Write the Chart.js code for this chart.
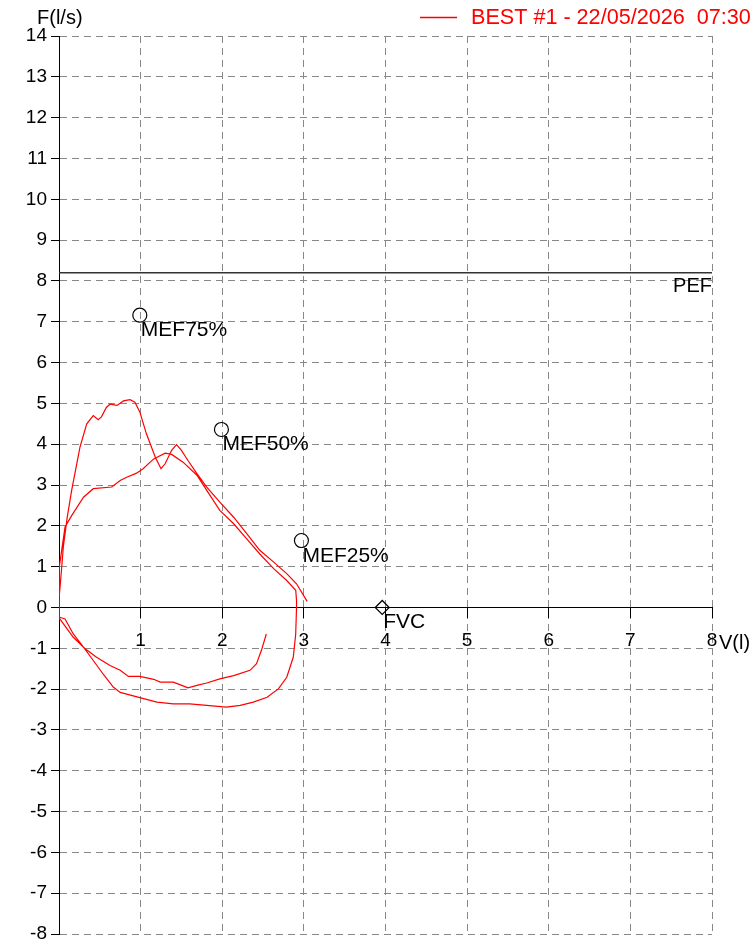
<!DOCTYPE html>
<html>
<head>
<meta charset="utf-8">
<script src="https://cdn.jsdelivr.net/npm/chart.js@4/dist/chart.umd.min.js"></script>
<style>
  html, body { margin: 0; padding: 0; background: #fff; }
  canvas { display: block; }
</style>
</head>
<body>
<canvas id="flowChart" width="752" height="944"></canvas>
<script>
// Flow-volume loop, [volume (l), flow (l/s)] pairs
const inspFirst = [
  [2.54, -0.65], [2.48, -1.05], [2.42, -1.38], [2.34, -1.54], [2.14, -1.67],
  [1.97, -1.75], [1.81, -1.85], [1.69, -1.91], [1.58, -1.97], [1.48, -1.89],
  [1.40, -1.83], [1.24, -1.83], [1.16, -1.76], [0.99, -1.69], [0.85, -1.69],
  [0.75, -1.54], [0.625, -1.42], [0.46, -1.22], [0.32, -1.01], [0.175, -0.73],
  [0.01, -0.28]
];
const expFirst = [
  [0.0, -0.28], [0.0, 0.5], [0.01, 0.99], [0.074, 1.97], [0.155, 2.25],
  [0.30, 2.70], [0.42, 2.91], [0.645, 2.95], [0.75, 3.11], [0.83, 3.19],
  [0.95, 3.29], [1.03, 3.40], [1.16, 3.64], [1.30, 3.78], [1.38, 3.75],
  [1.52, 3.56], [1.69, 3.24], [1.81, 2.87], [1.97, 2.38], [2.14, 2.05],
  [2.30, 1.68], [2.46, 1.31], [2.63, 0.95], [2.79, 0.66], [2.90, 0.42],
  [2.91, 0.17]
];
const inspSecond = [
  [2.91, 0.0], [2.90, -0.65], [2.87, -1.22], [2.79, -1.71], [2.69, -1.99],
  [2.55, -2.20], [2.38, -2.32], [2.22, -2.40], [2.05, -2.44], [1.81, -2.40],
  [1.60, -2.36], [1.40, -2.36], [1.20, -2.32], [0.99, -2.21], [0.75, -2.08],
  [0.665, -1.95], [0.54, -1.63], [0.42, -1.30], [0.30, -0.97], [0.175, -0.65],
  [0.074, -0.28], [0.01, -0.24]
];
const expSecond = [
  [0.0, -0.24], [0.0, 0.2], [0.02, 0.66], [0.053, 1.48], [0.10, 2.2],
  [0.155, 2.87], [0.257, 3.93], [0.34, 4.5], [0.42, 4.7], [0.48, 4.6],
  [0.52, 4.67], [0.58, 4.9], [0.625, 4.98], [0.71, 4.95], [0.79, 5.06],
  [0.87, 5.09], [0.93, 5.03], [0.99, 4.79], [1.07, 4.26], [1.18, 3.68],
  [1.25, 3.4], [1.30, 3.52], [1.38, 3.85], [1.44, 3.99], [1.50, 3.85],
  [1.58, 3.6], [1.69, 3.28], [1.81, 2.95], [1.97, 2.58], [2.14, 2.21],
  [2.30, 1.81], [2.46, 1.40], [2.63, 1.11], [2.79, 0.83], [2.91, 0.58],
  [3.04, 0.15]
];

// reference markers
const markerLabels = ['MEF75%', 'MEF50%', 'MEF25%', 'FVC'];
const markerVolume = [0.99, 1.99, 2.97, 3.96];
const markerFlow = [7.16, 4.36, 1.64, 0];
const pefFlow = 8.2;

const legendText = 'BEST #1 - 22/05/2026  07:30';
const xTicks = [0, 1, 2, 3, 4, 5, 6, 7, 8];

const FONT = "'Liberation Sans', Arial, sans-serif";
Chart.defaults.font.family = FONT;

const loopData = inspFirst.concat(expFirst, inspSecond, expSecond).map(p => ({x: p[0], y: p[1]}));

// texts around the plot
const textPlugin = {
    id: 'texts',
    afterDraw(chart) {
        const ctx = chart.ctx;
        const xs = chart.scales.x, ys = chart.scales.y;
        ctx.save();
        ctx.fillStyle = '#000';
        ctx.font = '20px ' + FONT;
        ctx.textBaseline = 'middle';
        ctx.textAlign = 'left';
        ctx.fillText('F(l/s)', 37, 18);
        ctx.fillText('V(l)', 719, 643);

        ctx.textAlign = 'right';
        ctx.fillText('PEF', xs.right, ys.getPixelForValue(pefFlow) + 14);

        ctx.font = '21px ' + FONT;
        ctx.textAlign = 'left';
        ctx.textBaseline = 'alphabetic';
        markerLabels.forEach((lab, i) => {
            ctx.fillText(lab, xs.getPixelForValue(markerVolume[i]) + 1, ys.getPixelForValue(markerFlow[i]) + 21);
        });

        // legend
        ctx.setLineDash([]);
        ctx.strokeStyle = 'rgb(255,0,0)';
        ctx.lineWidth = 1.3;
        ctx.beginPath();
        ctx.moveTo(420, 17.5);
        ctx.lineTo(457, 17.5);
        ctx.stroke();
        ctx.font = '21.6px ' + FONT;
        ctx.fillStyle = 'rgb(255,0,0)';
        ctx.textBaseline = 'middle';
        ctx.fillText(legendText, 471, 18);
        ctx.restore();
    }
};

const ctx = document.getElementById('flowChart').getContext('2d');
const flowChart = new Chart(ctx, {
    type: 'scatter',
    data: {
        datasets: [{
            label: legendText,
            data: loopData,
            showLine: true,
            borderColor: '#ff0000',
            borderWidth: 1.2,
            pointRadius: 0,
            tension: 0
        }, {
            label: 'PEF',
            data: [{x: 0, y: pefFlow}, {x: 8, y: pefFlow}],
            showLine: true,
            borderColor: '#333',
            borderWidth: 1.3,
            pointRadius: 0
        }, {
            label: 'markers',
            data: markerVolume.map((v, i) => ({x: v, y: markerFlow[i]})),
            showLine: false,
            pointStyle: markerLabels.map(l => l === 'FVC' ? 'rectRot' : 'circle'),
            pointRadius: 7,
            borderColor: '#000',
            borderWidth: 1.2,
            backgroundColor: 'rgba(0,0,0,0)'
        }]
    },
    options: {
        responsive: false,
        animation: false,
        devicePixelRatio: 1,
        layout: { padding: { top: 36, right: 40, bottom: 10, left: 0 } },
        plugins: {
            legend: { display: false },
            tooltip: { enabled: false }
        },
        scales: {
            x: {
                type: 'linear',
                position: { y: 0 },
                min: 0,
                max: 8,
                afterBuildTicks: s => { s.ticks = xTicks.map(v => ({value: v})); },
                afterFit: s => { s.paddingLeft = 0; s.paddingRight = 0; s.paddingTop = 0; s.paddingBottom = 0; },
                ticks: {
                    color: '#000',
                    font: { size: 19 },
                    padding: 12,
                    maxRotation: 0,
                    callback: v => v === 0 ? '' : String(v)
                },
                grid: {
                    color: c => c.tick && c.tick.value === 0 ? 'rgba(0,0,0,0)' : '#888',
                    tickColor: c => c.tick && c.tick.value === 0 ? 'rgba(0,0,0,0)' : '#000',
                    tickLength: 10,
                    lineWidth: 1
                },
                border: { color: '#000', width: 1, dash: [7, 5] }
            },
            y: {
                type: 'linear',
                position: 'left',
                min: -8,
                max: 14,
                afterFit: s => { s.width = 59; s.paddingTop = 0; s.paddingBottom = 0; },
                ticks: {
                    stepSize: 1,
                    color: '#000',
                    font: { size: 19 },
                    padding: 4
                },
                grid: {
                    color: c => c.tick && c.tick.value === 0 ? 'rgba(0,0,0,0)' : '#888',
                    tickColor: '#000',
                    tickLength: 8,
                    lineWidth: 1
                },
                border: { color: '#000', width: 1, dash: [7, 5] }
            }
        }
    },
    plugins: [textPlugin]
});
</script>
</body>
</html>
